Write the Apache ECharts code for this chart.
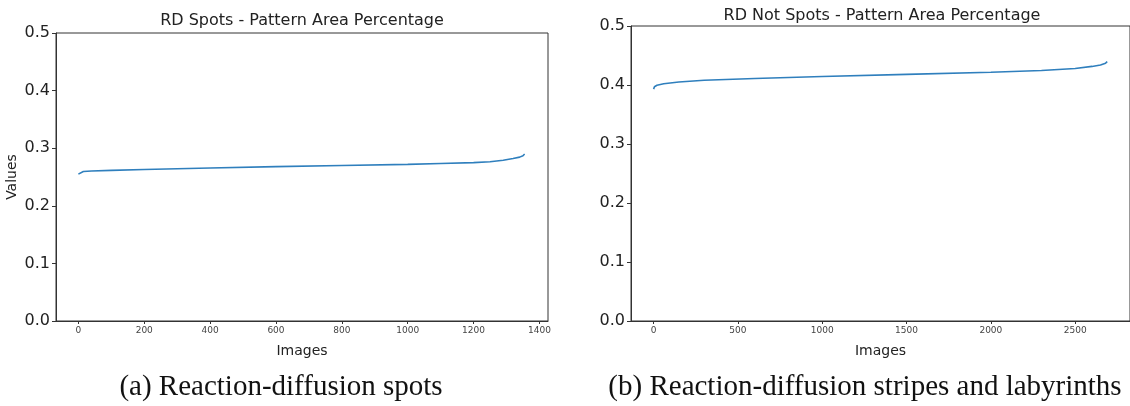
<!DOCTYPE html>
<html lang="en" style="height: 100%">
<head>
    <meta charset="UTF-8">
    <title>Pattern Area Percentage</title>
    <script src="https://cdn.jsdelivr.net/npm/echarts@6/dist/echarts.min.js"></script>
</head>
<body style="height: 100%; margin: 0; background: #fff">
<div id="container" style="width: 1130px; height: 406px"></div>

<script type="text/javascript">
    // (a) RD spots: image index -> sorted area fraction
    var spotsIndex = [0, 5, 15, 40, 100, 200, 400, 600, 800, 1000, 1100, 1200, 1250, 1290, 1320, 1340, 1350, 1355];
    var spotsValues = [0.255, 0.258, 0.2595, 0.2605, 0.2615, 0.263, 0.2655, 0.268, 0.270, 0.272, 0.2735, 0.275, 0.2765, 0.279, 0.282, 0.2845, 0.287, 0.290];

    // (b) RD not spots
    var notSpotsIndex = [0, 5, 20, 60, 150, 300, 600, 1000, 1500, 2000, 2300, 2500, 2600, 2650, 2680, 2690];
    var notSpotsValues = [0.393, 0.397, 0.3995, 0.402, 0.405, 0.408, 0.411, 0.4145, 0.418, 0.4215, 0.4245, 0.428, 0.4315, 0.434, 0.437, 0.4395];

    var xTicksA = [0, 200, 400, 600, 800, 1000, 1200, 1400];
    var xTicksB = [0, 500, 1000, 1500, 2000, 2500];
    var yTicks = [0, 0.1, 0.2, 0.3, 0.4, 0.5];

    var titles = ['RD Spots - Pattern Area Percentage', 'RD Not Spots - Pattern Area Percentage'];
    var captions = ['(a) Reaction-diffusion spots', '(b) Reaction-diffusion stripes and labyrinths'];

    function pairs(xs, ys) {
        return xs.map(function (x, i) { return [x, ys[i]]; });
    }

    var axisColor = '#333';
    var font = 'DejaVu Sans';

    function xAxisOf(grid, min, max, ticks) {
        return {
            type: 'value', gridIndex: grid, min: min, max: max,
            name: 'Images', nameLocation: 'middle', nameGap: 23,
            nameTextStyle: {fontFamily: font, fontSize: 14, color: '#222'},
            axisLine: {onZero: false, lineStyle: {color: axisColor, width: 1}},
            axisTick: {customValues: ticks, length: 3, lineStyle: {color: axisColor}},
            axisLabel: {
                customValues: ticks, fontFamily: font, fontSize: 9, color: '#444', margin: 5,
                formatter: function (v) { return String(v); }
            },
            splitLine: {show: false}
        };
    }

    function yAxisOf(grid, withName) {
        return {
            type: 'value', gridIndex: grid, min: 0, max: 0.5,
            name: withName ? 'Values' : '', nameLocation: 'middle', nameGap: 37,
            nameTextStyle: {fontFamily: font, fontSize: 14, color: '#222'},
            axisLine: {show: true, onZero: false, lineStyle: {color: axisColor, width: 1}},
            axisTick: {show: true, customValues: yTicks, length: 4, lineStyle: {color: axisColor}},
            axisLabel: {
                customValues: yTicks, fontFamily: font, fontSize: 16, color: '#222', margin: 6,
                formatter: function (v) { return v.toFixed(1); }
            },
            splitLine: {show: false}
        };
    }

    var myChart = echarts.init(document.getElementById('container'));

    var option = {
        animation: false,
        grid: [
            {left: 56, width: 492, top: 33, height: 288, show: true, borderColor: axisColor, borderWidth: 1},
            {left: 631, width: 503, top: 26, height: 295, show: true, borderColor: axisColor, borderWidth: 1}
        ],
        xAxis: [
            xAxisOf(0, -68, 1426, xTicksA),
            xAxisOf(1, -134, 2825, xTicksB)
        ],
        yAxis: [yAxisOf(0, true), yAxisOf(1, false)],
        series: [
            {
                type: 'line', xAxisIndex: 0, yAxisIndex: 0, data: pairs(spotsIndex, spotsValues),
                showSymbol: false, smooth: false,
                lineStyle: {color: '#2f7fbd', width: 1.6}
            },
            {
                type: 'line', xAxisIndex: 1, yAxisIndex: 1, data: pairs(notSpotsIndex, notSpotsValues),
                showSymbol: false, smooth: false,
                lineStyle: {color: '#2f7fbd', width: 1.6}
            }
        ],
        graphic: [
            {type: 'text', x: 302, y: 21, style: {text: titles[0], font: '16px "DejaVu Sans"', fill: '#222', align: 'center', verticalAlign: 'middle'}},
            {type: 'text', x: 882, y: 16, style: {text: titles[1], font: '16px "DejaVu Sans"', fill: '#222', align: 'center', verticalAlign: 'middle'}},
            {type: 'text', x: 281, y: 387, style: {text: captions[0], font: '29px "Liberation Serif"', fill: '#111', align: 'center', verticalAlign: 'middle'}},
            {type: 'text', x: 865, y: 387, style: {text: captions[1], font: '29px "Liberation Serif"', fill: '#111', align: 'center', verticalAlign: 'middle'}}
        ]
    };
    myChart.setOption(option, true);
</script>
</body>
</html>
